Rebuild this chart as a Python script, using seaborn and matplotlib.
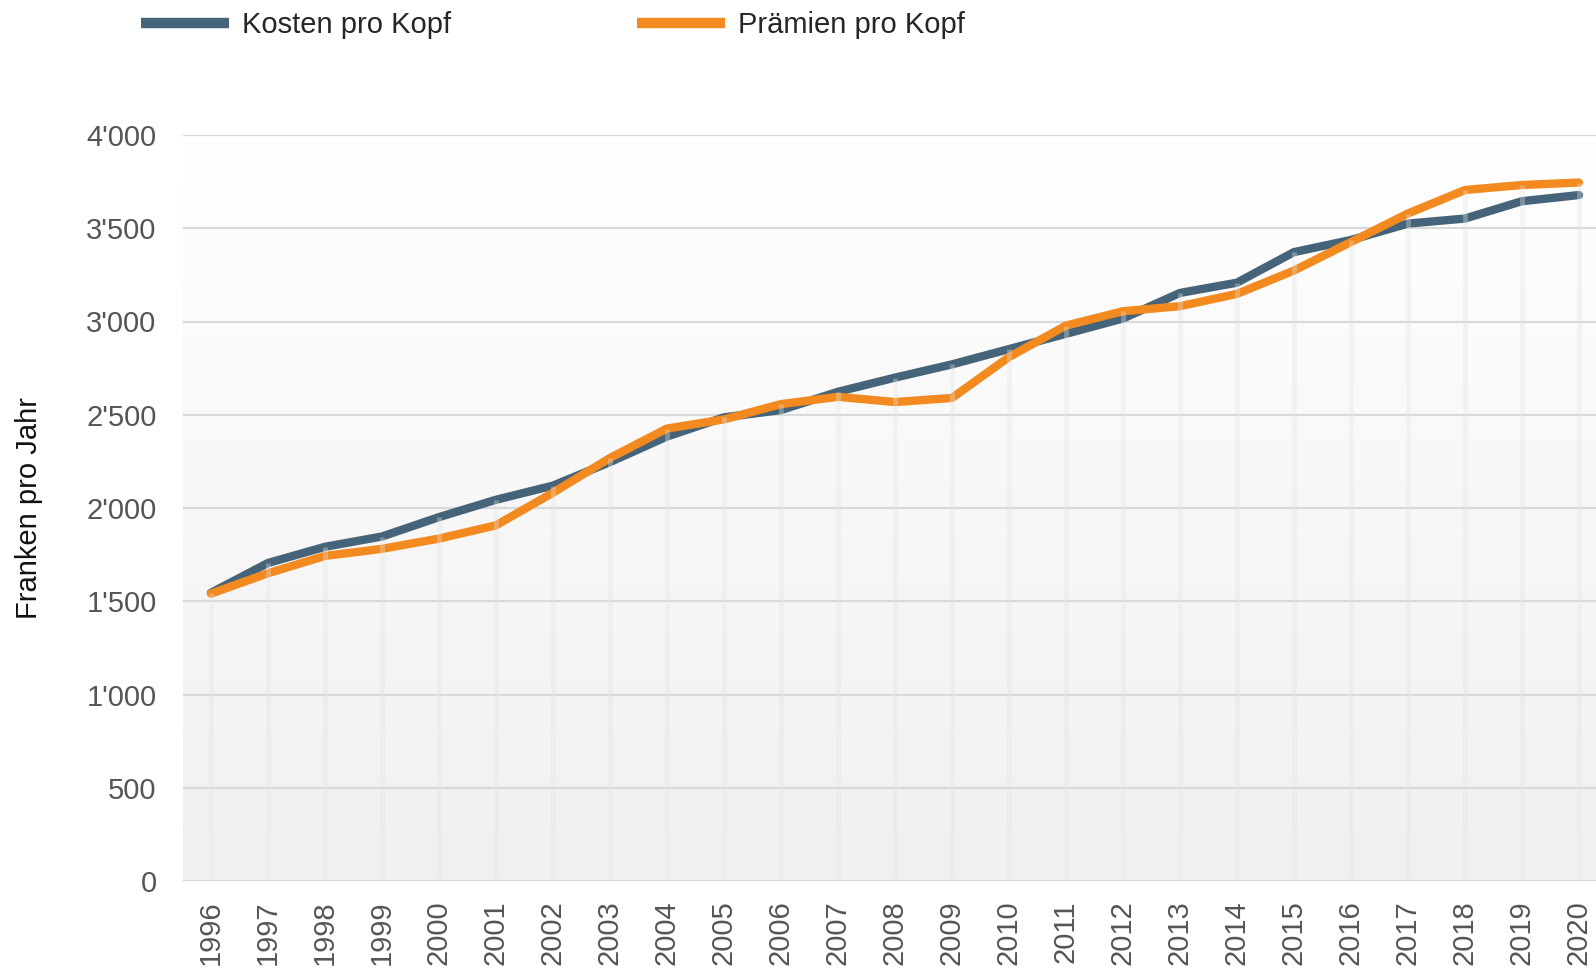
import numpy as np
import pandas as pd
import matplotlib
matplotlib.use("Agg")
import matplotlib.pyplot as plt
from matplotlib.lines import Line2D
from matplotlib.ticker import FuncFormatter
import seaborn as sns

YEARS = list(range(1996, 2021))
KOSTEN = [1545, 1705, 1792, 1847, 1951, 2044, 2120, 2246, 2383, 2486, 2525, 2623, 2699,
          2770, 2852, 2934, 3016, 3153, 3208, 3372, 3437, 3525, 3552, 3645, 3678]
PRAEMIEN = [1541, 1650, 1743, 1781, 1836, 1907, 2082, 2268, 2426, 2475, 2557, 2596, 2568,
            2590, 2809, 2978, 3055, 3082, 3148, 3273, 3426, 3579, 3705, 3732, 3745]
SERIES = ["Kosten pro Kopf", "Prämien pro Kopf"]
COLORS = ["#45647a", "#f28a20"]
Y_TICKS = [0, 500, 1000, 1500, 2000, 2500, 3000, 3500, 4000]

df = pd.DataFrame({
    "Jahr": YEARS * 2,
    "Wert": KOSTEN + PRAEMIEN,
    "Serie": [SERIES[0]] * len(YEARS) + [SERIES[1]] * len(YEARS),
})

sns.set_style("white")
plt.rcParams["font.family"] = ["Liberation Sans", "DejaVu Sans"]

fig = plt.figure(figsize=(15.96, 9.69), dpi=100)
ax = fig.add_axes([183 / 1596, 1 - 881 / 969, 1 - 183 / 1596, (881 - 135) / 969])

# background gradient, white at top to light grey at bottom
grad = np.linspace(1.0, 0.0, 256).reshape(-1, 1)
ax.imshow(grad, extent=[1995.51, 2020.3, 0, 4000], aspect="auto",
          cmap=matplotlib.colors.LinearSegmentedColormap.from_list("bg", ["#f0f0f0", "#ffffff"]),
          vmin=0, vmax=1, zorder=0, origin="upper")

for t in Y_TICKS:
    ax.axhline(t, color="#d9d9d9" if t else "#d3d3d3", lw=1.6 if t else 2.2, zorder=1)

sns.lineplot(data=df, x="Jahr", y="Wert", hue="Serie", palette=COLORS, ax=ax,
             lw=6, legend=False, zorder=3)
for line in ax.lines[-2:]:
    line.set_solid_capstyle("round")
    line.set_solid_joinstyle("round")

# faint drop lines drawn over the series
ax.vlines(YEARS, 0, np.maximum(KOSTEN, PRAEMIEN), color="#e4e4e4", alpha=0.35, lw=3.5, zorder=5)

ax.set_xlim(1995.51, 2020.3)
ax.set_ylim(0, 4000)
ax.set_xticks(YEARS)
ax.set_xticklabels([str(y) for y in YEARS], rotation=90, va="top")
ax.set_yticks(Y_TICKS)
ax.yaxis.set_major_formatter(FuncFormatter(lambda v, p: f"{int(v):,}".replace(",", "'")))
ax.tick_params(axis="x", length=0, pad=14, labelsize=21, labelcolor="#555555")
ax.tick_params(axis="y", length=0, pad=19, labelsize=21, labelcolor="#555555")
ax.set_xlabel("")
ax.set_ylabel("Franken pro Jahr", fontsize=21, color="#111111", labelpad=31)
for s in ax.spines.values():
    s.set_visible(False)

handles = [Line2D([0], [0], color=c, lw=7.5, solid_capstyle="butt") for c in COLORS]
fig.legend(handles, SERIES, loc="center left", bbox_to_anchor=(141 / 1596, 1 - 25 / 969),
           ncol=2, frameon=False, fontsize=21, handlelength=3.0, handletextpad=0.45,
           columnspacing=6.4, borderaxespad=0, borderpad=0)

fig.savefig("out.png", dpi=100)
